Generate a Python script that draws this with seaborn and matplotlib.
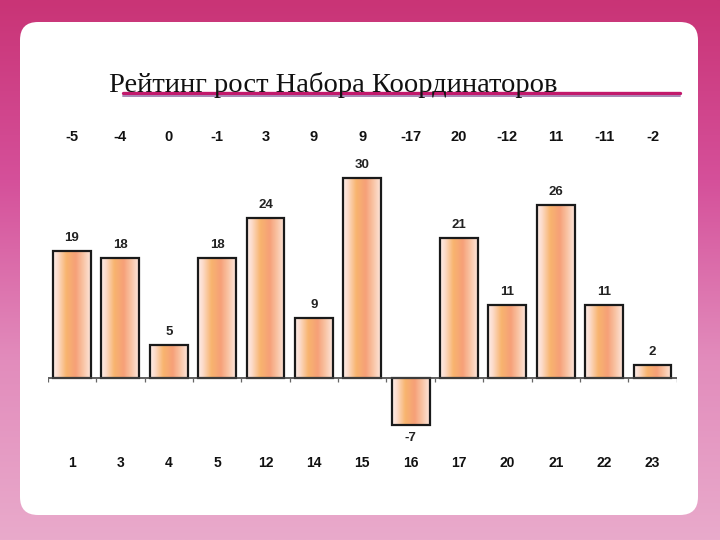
import numpy as np
import pandas as pd
import matplotlib
matplotlib.use("Agg")
import matplotlib.pyplot as plt
import seaborn as sns
from matplotlib.colors import LinearSegmentedColormap
from matplotlib.patches import FancyBboxPatch
from matplotlib.transforms import blended_transform_factory

# ---- data ----
title = "Рейтинг рост Набора Координаторов"
categories = ["1", "3", "4", "5", "12", "14", "15", "16", "17", "20", "21", "22", "23"]
values = [19, 18, 5, 18, 24, 9, 30, -7, 21, 11, 26, 11, 2]
changes = ["-5", "-4", "0", "-1", "3", "9", "9", "-17", "20", "-12", "11", "-11", "-2"]

sns.set_theme(style="white")
narrow = ["Liberation Sans Narrow", "Liberation Sans", "DejaVu Sans"]
plt.rcParams["font.family"] = narrow

W, H = 720, 540
fig = plt.figure(figsize=(W / 100, H / 100), dpi=100)

# background gradient (pink glitter approximation)
bg = fig.add_axes([0, 0, 1, 1], zorder=-10)
bg_cmap = LinearSegmentedColormap.from_list(
    "bg", ["#c93476", "#d5509a", "#e28cbc", "#e9aacb"])
grad = np.linspace(0, 1, 256).reshape(-1, 1)
bg.imshow(grad, aspect="auto", cmap=bg_cmap, extent=[0, 1, 0, 1], origin="upper")
bg.set_xlim(0, 1)
bg.set_ylim(0, 1)
bg.axis("off")

# white card
card = FancyBboxPatch((20 / W, 1 - 515 / H), (698 - 20) / W, (515 - 22) / H,
                      boxstyle="round,pad=0,rounding_size=0.025",
                      transform=fig.transFigure, facecolor="white",
                      edgecolor="none", zorder=-5, mutation_aspect=W / H)
fig.patches.append(card)

# title + underline
fig.add_artist(plt.Line2D([123 / W, 680 / W], [1 - 92.5 / H] * 2,
                          color="#c2186c", lw=2.4, zorder=1))
fig.add_artist(plt.Line2D([123 / W, 680 / W], [1 - 95.8 / H] * 2,
                          color="#a886b4", lw=1.4, zorder=1))
fig.text(333 / W, 1 - 92 / H, title, ha="center", va="baseline",
         fontsize=20.5, family=["Liberation Serif", "DejaVu Serif"],
         color="#111111", zorder=3)

# chart axes
left, right = 47.8, 676.7
ymin, ymax = -9, 32
zero_px = 378
ppu = 6.67
top_px = zero_px - ymax * ppu
bot_px = zero_px - ymin * ppu
ax = fig.add_axes([left / W, 1 - bot_px / H, (right - left) / W, (bot_px - top_px) / H])
ax.patch.set_alpha(0)

df = pd.DataFrame({"cat": categories, "val": values})
sns.barplot(data=df, x="cat", y="val", order=categories, ax=ax,
            width=0.785, color="white", edgecolor="#1a1a1a", linewidth=1.6,
            saturation=1, zorder=3)

ax.set_xlim(-0.5, len(categories) - 0.5)
ax.set_ylim(ymin, ymax)

bar_cmap = LinearSegmentedColormap.from_list(
    "bar", [(0.0, "#fdeee8"), (0.12, "#fcdccc"), (0.35, "#f8b46e"),
            (0.6, "#f6a078"), (0.8, "#f9c4a4"), (1.0, "#fde6dc")])
hgrad = np.linspace(0, 1, 128).reshape(1, -1)
for p in ax.patches:
    x0, y0 = p.get_x(), p.get_y()
    w, h = p.get_width(), p.get_height()
    p.set_facecolor("none")
    im = ax.imshow(hgrad, cmap=bar_cmap, aspect="auto",
                   extent=[x0, x0 + w, min(y0, y0 + h), max(y0, y0 + h)],
                   zorder=2, interpolation="bicubic")
    im.set_clip_path(p)
ax.set_xlim(-0.5, len(categories) - 0.5)
ax.set_ylim(ymin, ymax)

# zero line with boundary ticks
ax.axhline(0, color="#444444", lw=1.2, zorder=4)
bounds = np.arange(len(categories) + 1) - 0.5
ax.vlines(bounds, -0.6, 0, color="#666666", lw=0.9, zorder=4)

# value labels
off = 13 / ppu
for i, v in enumerate(values):
    y = v + off if v >= 0 else v - off
    ax.text(i, y, str(v), ha="center", va="center", fontsize=9.5,
            fontweight="bold", color="#222222", zorder=5)

# top row of changes
tr = blended_transform_factory(ax.transData, fig.transFigure)
for i, c in enumerate(changes):
    ax.text(i, 1 - 137 / H, c, transform=tr, ha="center", va="center",
            fontsize=10.5, fontweight="bold", color="#111111")

# category labels
ax.set_xticks(range(len(categories)))
ax.set_xticklabels(categories, fontsize=10, fontweight="bold", color="#111111")
ax.tick_params(axis="x", length=0, pad=13)
ax.set_yticks([])
ax.set_xlabel("")
ax.set_ylabel("")
for s in ax.spines.values():
    s.set_visible(False)

fig.savefig("out.png", dpi=100)
